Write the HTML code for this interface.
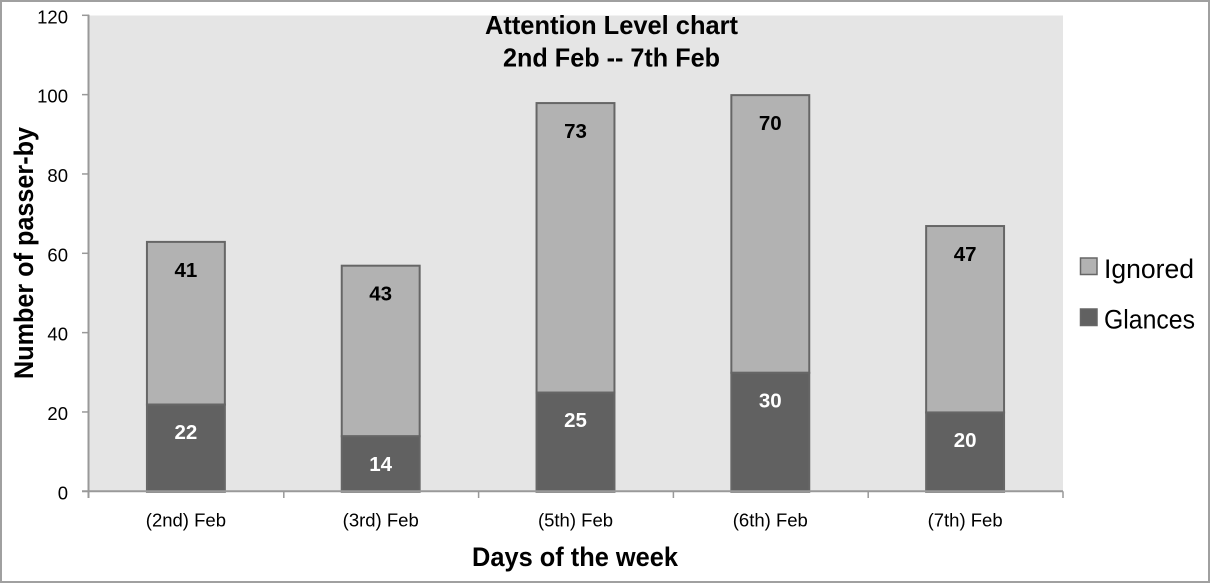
<!DOCTYPE html>
<html>
<head>
<meta charset="utf-8">
<title>Attention Level chart</title>
<style>
html,body{margin:0;padding:0;background:#fff;}
svg{display:block;font-family:"Liberation Sans",sans-serif;}
</style>
</head>
<body>
<svg id="chart" xmlns="http://www.w3.org/2000/svg" width="1210" height="583" viewBox="0 0 1210 583">
  <rect x="0" y="0" width="1210" height="583" fill="#ffffff"/>
  <rect x="1" y="1" width="1208" height="581" fill="none" stroke="#a0a0a0" stroke-width="2"/>
  <rect x="89" y="15.5" width="974" height="476" fill="#e5e5e5"/>
  <g id="bars" transform="translate(-0.5,0.5)"></g>
  <g id="axes"></g>
  <g font-weight="bold" font-size="26" fill="#000">
    <text x="611.5" y="34" text-anchor="middle" textLength="253" lengthAdjust="spacingAndGlyphs">Attention Level chart</text>
    <text x="611.5" y="66.5" text-anchor="middle" textLength="217" lengthAdjust="spacingAndGlyphs">2nd Feb -- 7th Feb</text>
  </g>
  <text transform="translate(33,253) rotate(-90)" text-anchor="middle" font-weight="bold" font-size="27" textLength="252" lengthAdjust="spacingAndGlyphs" fill="#000">Number of passer-by</text>
  <text x="575" y="566" text-anchor="middle" font-weight="bold" font-size="27" textLength="206" lengthAdjust="spacingAndGlyphs" fill="#000">Days of the week</text>
  <g font-size="27" fill="#000">
    <g>
      <rect x="1080.5" y="258" width="16.5" height="16.5" fill="#b2b2b2" stroke="#666" stroke-width="1.5"/>
      <text x="1104" y="278" textLength="90" lengthAdjust="spacingAndGlyphs">Ignored</text>
    </g>
    <g>
      <rect x="1080.5" y="309" width="16.5" height="16.5" fill="#616161" stroke="#666" stroke-width="1.5"/>
      <text x="1104" y="328.5" textLength="91" lengthAdjust="spacingAndGlyphs">Glances</text>
    </g>
  </g>
</svg>
<script>
const categories = ['(2nd) Feb', '(3rd) Feb', '(5th) Feb', '(6th) Feb', '(7th) Feb'];
const glances = [22, 14, 25, 30, 20];
const ignored = [41, 43, 73, 70, 47];
const yTicks = [0, 20, 40, 60, 80, 100, 120];

const NS = 'http://www.w3.org/2000/svg';
const plotLeft = 89, plotRight = 1063, plotBottom = 491.3, plotTop = 15.3;
const yMax = 120;
const yScale = function (v) { return plotBottom - v * (plotBottom - plotTop) / yMax; };
const bandWidth = (plotRight - plotLeft) / categories.length;
const xCenter = function (i) { return plotLeft + bandWidth * (i + 0.5); };
const barWidth = bandWidth * 0.4;

function make(tag, attrs, parent, text) {
  const el = document.createElementNS(NS, tag);
  for (const k in attrs) el.setAttribute(k, attrs[k]);
  if (text !== undefined) el.textContent = text;
  parent.appendChild(el);
  return el;
}

const barsGroup = document.getElementById('bars');
const axesGroup = document.getElementById('axes');

categories.forEach(function (cat, i) {
  const cx = xCenter(i);
  const yGlances = yScale(glances[i]);
  const yTotal = yScale(glances[i] + ignored[i]);

  const r1 = make('rect', {x: cx - barWidth / 2, y: yTotal, width: barWidth, height: yGlances - yTotal, fill: '#b2b2b2', stroke: '#666', 'stroke-width': 2}, barsGroup);
  
  

  const r2 = make('rect', {x: cx - barWidth / 2, y: yGlances, width: barWidth, height: plotBottom - yGlances, fill: '#616161', stroke: '#666', 'stroke-width': 2}, barsGroup);
  
  

  const t1 = make('text', {x: cx, y: yTotal + 35, 'text-anchor': 'middle', 'font-weight': 'bold', 'font-size': 20.5, fill: '#000'}, barsGroup, String(ignored[i]));
  
  

  const t2 = make('text', {x: cx, y: yGlances + 34.5, 'text-anchor': 'middle', 'font-weight': 'bold', 'font-size': 20.5, fill: '#fff'}, barsGroup, String(glances[i]));
  
  

  const c = make('text', {x: cx - 0.5, y: 526.5, 'text-anchor': 'middle', 'font-size': 18.5, fill: '#000'}, axesGroup, cat);
  
  
});

const yLine = make('line', {x1: plotLeft - 0.5, x2: plotLeft - 0.5, y1: plotTop - 0.5, y2: 498, stroke: '#999', 'stroke-width': 2}, axesGroup);



const xLine = make('line', {x1: plotLeft - 7, x2: plotRight, y1: plotBottom, y2: plotBottom, stroke: '#999', 'stroke-width': 2}, axesGroup);



yTicks.forEach(function (v) {
  const y = yScale(v);
  const tick = make('line', {x1: plotLeft - 7, x2: plotLeft, y1: y, y2: y, stroke: '#999', 'stroke-width': 1.5}, axesGroup);
  
  
  const label = make('text', {x: 68, y: y + 8, 'text-anchor': 'end', 'font-size': 18.5, fill: '#000'}, axesGroup, String(v));
  
  
});

for (let i = 0; i <= categories.length; i++) {
  const x = plotLeft + bandWidth * i - (i === 0 ? 0.5 : 0);
  const tick = make('line', {x1: x, x2: x, y1: plotBottom, y2: 498, stroke: '#999', 'stroke-width': 1.5}, axesGroup);
  
  
}
</script>
</body>
</html>
